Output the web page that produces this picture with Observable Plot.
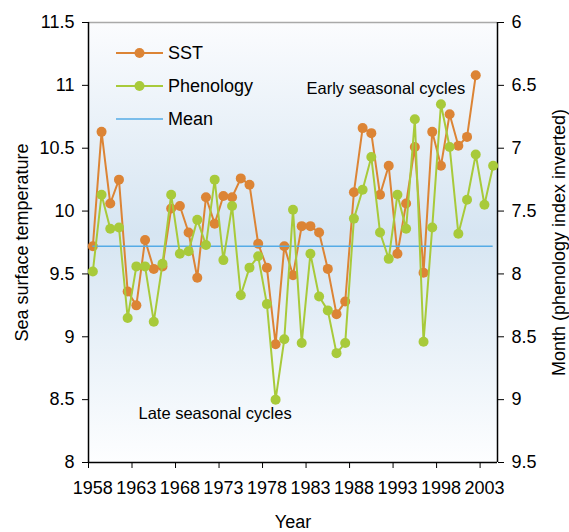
<!DOCTYPE html>
<html>
<head>
<meta charset="utf-8">
<script src="https://cdn.jsdelivr.net/npm/d3@7"></script>
<script src="https://cdn.jsdelivr.net/npm/@observablehq/plot@0.6"></script>
<style>
  body { margin: 0; background: #ffffff; }
  #chart { position: relative; width: 569px; height: 532px; }
</style>
</head>
<body>
<div id="chart"></div>
<script>
// ---- Data ----
const years = [1958,1959,1960,1961,1962,1963,1964,1965,1966,1967,
               1968,1969,1970,1971,1972,1973,1974,1975,1976,1977,
               1978,1979,1980,1981,1982,1983,1984,1985,1986,1987,
               1988,1989,1990,1991,1992,1993,1994,1995,1996,1997,
               1998,1999,2000,2001,2002,2003,2004];
// Sea surface temperature (left axis), 1958-2002
const sst = [9.72,10.63,10.06,10.25,9.36,9.25,9.77,9.54,9.56,10.02,
             10.04,9.83,9.47,10.11,9.90,10.12,10.11,10.26,10.21,9.74,
             9.55,8.94,9.72,9.49,9.88,9.88,9.83,9.54,9.18,9.28,
             10.15,10.66,10.62,10.13,10.36,9.66,10.06,10.51,9.51,10.63,
             10.36,10.77,10.52,10.59,11.08];
// Phenology index, month (right axis, inverted), 1958-2004
const phenology = [7.98,7.37,7.64,7.63,8.35,7.94,7.94,8.38,7.92,7.37,
                   7.84,7.82,7.57,7.77,7.25,7.89,7.46,8.17,7.95,7.86,
                   8.24,9.00,8.52,7.49,8.55,7.84,8.18,8.29,8.63,8.55,
                   7.56,7.33,7.07,7.67,7.88,7.37,7.64,6.77,8.54,7.63,
                   6.65,6.99,7.68,7.41,7.05,7.45,7.14];
const sstMean = 9.72;
const leftTicks = [8, 8.5, 9, 9.5, 10, 10.5, 11, 11.5];
const monthTicks = [6, 6.5, 7, 7.5, 8, 8.5, 9, 9.5];
const xTickLabels = [1958,1963,1968,1973,1978,1983,1988,1993,1998,2003];
const seriesNames = ["SST", "Phenology", "Mean"];
const annotations = ["Early seasonal cycles", "Late seasonal cycles"];
const axisTitles = ["Sea surface temperature", "Month (phenology index inverted)", "Year"];

// ---- Scales ----
const leftDomain = [8, 11.5];
const rightDomain = [6, 9.5]; // inverted: 6 at top
const toLeft = m => leftDomain[1] - (m - rightDomain[0]);
const toMonth = v => rightDomain[0] + (leftDomain[1] - v);
const xDomain = [years[0] - 0.5, years[years.length - 1] + 0.5];

const colors = { sst: "#dc8435", phen: "#a8ca3a", mean: "#55abe6" };

const sstData = sst.map((v, i) => ({ year: years[i], value: v }));
const phenData = phenology.map((m, i) => ({ year: years[i], month: m }));
const boundaries = xTickLabels.map(y => y - 0.5);

const M = { left: 88, right: 72, top: 22, bottom: 70 };
const W = 569, H = 532;

const plot = Plot.plot({
  width: W,
  height: H,
  marginLeft: M.left,
  marginRight: M.right,
  marginTop: M.top,
  marginBottom: M.bottom,
  style: { fontFamily: "'Liberation Sans', Arial, sans-serif", fontSize: "18px", color: "#000", background: "transparent" },
  x: { domain: xDomain },
  y: { domain: leftDomain },
  marks: [
    Plot.frame({ fill: "url(#bgGrad)", stroke: "none" }),
    Plot.ruleY([leftDomain[1]], { stroke: "#a9a9a9", strokeWidth: 1.5 }),
    Plot.ruleY([leftDomain[0]], { stroke: "#000", strokeWidth: 1.5 }),
    Plot.ruleX(xDomain, { stroke: "#000", strokeWidth: 1.5 }),
    Plot.axisY(leftTicks, { anchor: "left", tickSize: 6, tickPadding: 8, label: null, tickFormat: d => String(d) }),
    Plot.axisY(monthTicks.map(toLeft), { anchor: "right", tickSize: 6, tickPadding: 8, label: null, tickFormat: d => String(toMonth(d)) }),
    Plot.axisX(boundaries, { anchor: "bottom", tickSize: 6, label: null, tickFormat: () => "" }),
    Plot.axisX(xTickLabels, { anchor: "bottom", tickSize: 0, tickPadding: 19, label: null, tickFormat: d => String(d) }),
    Plot.line(sstData, { x: "year", y: "value", stroke: colors.sst, strokeWidth: 2 }),
    Plot.dot(sstData, { x: "year", y: "value", r: 5, fill: colors.sst }),
    Plot.ruleY([sstMean], { x1: years[0], x2: years[years.length - 1], stroke: colors.mean, strokeWidth: 1.5 }),
    Plot.line(phenData, { x: "year", y: d => toLeft(d.month), stroke: colors.phen, strokeWidth: 2 }),
    Plot.dot(phenData, { x: "year", y: d => toLeft(d.month), r: 5, fill: colors.phen }),
    Plot.text([annotations[0]], { text: d => d, frameAnchor: "top-left", lineAnchor: "middle", dx: 218, dy: 66, textAnchor: "start", fontSize: 16.5 }),
    Plot.text([annotations[1]], { text: d => d, frameAnchor: "top-left", lineAnchor: "middle", dx: 50, dy: 391, textAnchor: "start", fontSize: 16.5 }),
    Plot.text([axisTitles[0]], { text: d => d, frameAnchor: "left", textAnchor: "middle", lineAnchor: "middle", dx: -66, rotate: -90, fontSize: 18 }),
    Plot.text([axisTitles[1]], { text: d => d, frameAnchor: "right", textAnchor: "middle", lineAnchor: "middle", dx: 62, rotate: -90, fontSize: 18 }),
    Plot.text([axisTitles[2]], { text: d => d, frameAnchor: "bottom", textAnchor: "middle", lineAnchor: "middle", dy: 60, fontSize: 18 })
  ]
});

// Background gradient (top of frame to bottom of frame)
const svg = d3.select(plot);
const grad = svg.insert("defs", ":first-child").append("linearGradient")
  .attr("id", "bgGrad").attr("gradientUnits", "userSpaceOnUse")
  .attr("x1", 0).attr("y1", M.top).attr("x2", 0).attr("y2", H - M.bottom);
grad.append("stop").attr("offset", "0%").attr("stop-color", "#fbfcfe");
grad.append("stop").attr("offset", "48%").attr("stop-color", "#d6e5f2");
grad.append("stop").attr("offset", "100%").attr("stop-color", "#fdfeff");

// Legend
const legend = svg.append("g")
  .attr("font-family", "'Liberation Sans', Arial, sans-serif")
  .attr("font-size", 18)
  .attr("text-anchor", "start");
const legendColors = [colors.sst, colors.phen, colors.mean];
seriesNames.forEach((name, i) => {
  const y = 53 + i * 33;
  legend.append("line").attr("x1", 116).attr("x2", 163).attr("y1", y).attr("y2", y)
    .attr("stroke", legendColors[i]).attr("stroke-width", i === 2 ? 1.5 : 2);
  if (i < 2) legend.append("circle").attr("cx", 139.5).attr("cy", y).attr("r", 5).attr("fill", legendColors[i]);
  legend.append("text").attr("x", 168).attr("y", y).attr("dy", "0.35em").attr("text-anchor", "start").text(name);
});

document.getElementById("chart").appendChild(plot);
</script>
</body>
</html>
